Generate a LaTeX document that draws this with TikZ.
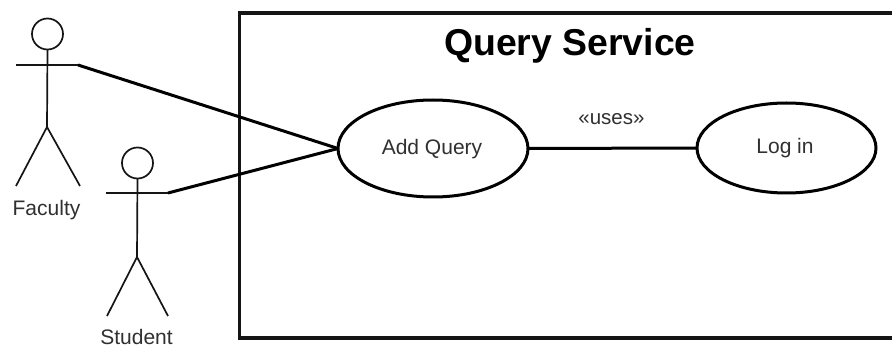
\documentclass[tikz,border=0pt]{standalone}
\usepackage{fontspec}
\setmainfont{Liberation Sans}
\usetikzlibrary{shapes.geometric}
\definecolor{inkc}{HTML}{151515}
\definecolor{labelc}{HTML}{303030}
\tikzset{
  usecase/.style={draw=black,line width=3pt,ellipse,inner sep=0pt,outer sep=0pt,fill=white},
  stickline/.style={draw=inkc,line width=1.7pt},
  stickhead/.style={draw=inkc,line width=1.7pt,circle,inner sep=0pt,outer sep=0pt,minimum size=31pt},
  assoc/.style={draw=black,line width=3pt},
  lbl/.style={text=labelc,font=\fontsize{21}{25}\selectfont,inner sep=0pt,anchor=base},
}
\begin{document}
\begin{tikzpicture}[x=1pt,y=-1pt]
\useasboundingbox (0,0) rectangle (892,347);
\fill[white] (0,0) rectangle (892,347);
% system boundary (cut by the right edge of the picture)
\coordinate (bne) at (892,13);
\coordinate (bnw) at (239.5,13);
\coordinate (bsw) at (239.5,338);
\coordinate (bse) at (892,338);
\draw[draw=inkc,line width=3.6pt,line join=miter] (bne) -- (bnw) -- (bsw) -- (bse);
\node[inner sep=0pt,anchor=base,font=\bfseries\fontsize{37.4}{44}\selectfont,text=black] (title) at (570,55.5) {Query Service};
% Faculty
\node[stickhead] (fhead) at (47.5,34) {};
\coordinate (fhip) at (47,127);
\coordinate (flarm) at (16,65);
\coordinate (frarm) at (78,65);
\coordinate (flleg) at (16,186);
\coordinate (frleg) at (80,186);
\draw[stickline] (fhead.south) -- (fhip);
\draw[stickline] (flarm) -- (frarm);
\draw[stickline] (flleg) -- (fhip) -- (frleg);
\node[lbl] (faculty) at (46.5,216) {Faculty};
% Student
\node[stickhead] (shead) at (137.5,163) {};
\coordinate (ship) at (137,257);
\coordinate (slarm) at (106,193);
\coordinate (srarm) at (168,193);
\coordinate (slleg) at (107,316);
\coordinate (srleg) at (168,316);
\draw[stickline] (shead.south) -- (ship);
\draw[stickline] (slarm) -- (srarm);
\draw[stickline] (slleg) -- (ship) -- (srleg);
\node[lbl] (student) at (136.5,345) {Student};
% Use cases
\node[usecase,minimum width=190pt,minimum height=97pt] (add) at (433,148.5) {};
\node[lbl] (addt) at (432,154.5) {Add Query};
\node[usecase,minimum width=179pt,minimum height=90pt] (login) at (786.5,148) {};
\node[lbl] (logt) at (785,154) {Log in};
% Connectors
\draw[assoc] (frarm) -- (add.west);
\draw[assoc] (srarm) -- (add.west);
\draw[assoc] (add.east) -- (login.west);
\node[lbl,font=\fontsize{20.5}{24}\selectfont] (uses) at (611.5,125) {«uses»};
\end{tikzpicture}
\end{document}
